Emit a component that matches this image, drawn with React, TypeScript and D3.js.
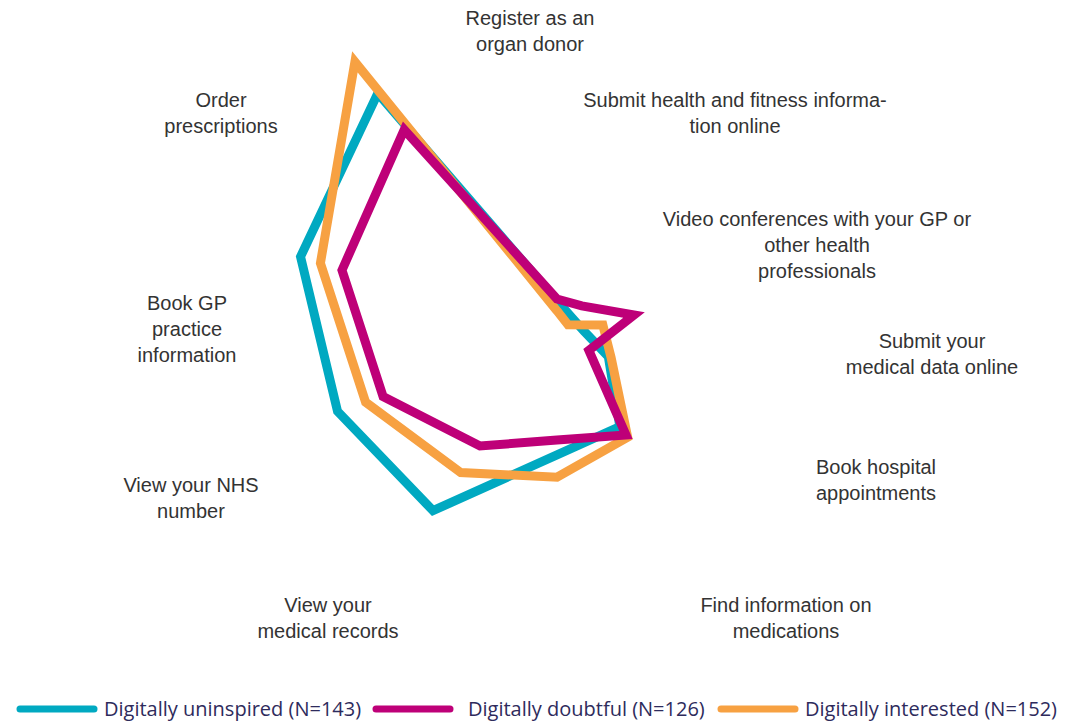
import React from "react";
import * as d3 from "d3";

// ---- data ----
const categories = [
  "Register as an organ donor",
  "Submit health and fitness information online",
  "Video conferences with your GP or other health professionals",
  "Submit your medical data online",
  "Book hospital appointments",
  "Find information on medications",
  "View your medical records",
  "View your NHS number",
  "Book GP practice information",
  "Order prescriptions",
];

const labelLines = [
  ["Register as an", "organ donor"],
  ["Submit health and fitness informa-", "tion online"],
  ["Video conferences with your GP or", "other health", "professionals"],
  ["Submit your", "medical data online"],
  ["Book hospital", "appointments"],
  ["Find information on", "medications"],
  ["View your", "medical records"],
  ["View your NHS", "number"],
  ["Book GP", "practice", "information"],
  ["Order", "prescriptions"],
];

const seriesNames = [
  "Digitally uninspired (N=143)",
  "Digitally doubtful (N=126)",
  "Digitally interested (N=152)",
];

const uninspired = [10.9, 7.4, 7.9, 15.0, 29.7, 31.9, 58.6, 64.1, 74.9, 84.7];
const doubtful = [11.4, 11.7, 22.5, 9.3, 32.6, 27.8, 36.4, 50.8, 62.8, 72.2];
const interested = [8.1, 5.2, 13.4, 15.8, 33.4, 38.1, 45.5, 55.9, 69.1, 95.5];

// ---- layout / style ----
const W = 1079;
const H = 721;
const CX = 557;
const CY = 340;
const MAX_R = 360;
const colors = ["#00A9C1", "#BE0078", "#F7A142"];
const drawOrder = [0, 2, 1];
// label anchor: centre x, middle of first line y (labels are hand-placed in the original)
const labelAnchors: [number, number][] = [
  [530, 18],
  [735, 100],
  [817, 219],
  [932, 341],
  [876, 467],
  [786, 605],
  [328, 605],
  [191, 485],
  [187, 303],
  [221, 100],
];
const legendLineX = [17, 373, 718];
const legendTextX = [104, 468, 805];
const LEGEND_Y = 709;

export default function App() {
  const seriesValues = [uninspired, doubtful, interested];
  const n = categories.length;
  const angle = d3.scaleLinear().domain([0, n]).range([0, 2 * Math.PI]);
  const radius = d3.scaleLinear().domain([0, 100]).range([0, MAX_R]);
  const line = d3
    .lineRadial<number>()
    .angle((_, i) => angle(i))
    .radius((d) => radius(d))
    .curve(d3.curveLinearClosed);

  return (
    <svg
      width={W}
      height={H}
      style={{ position: "absolute", left: 0, top: 0, background: "#fff" }}
    >
      <rect width={W} height={H} fill="#fff" />
      <g transform={`translate(${CX},${CY})`}>
        {drawOrder.map((si) => (
          <path
            key={si}
            d={line(seriesValues[si]) || ""}
            fill="none"
            stroke={colors[si]}
            strokeWidth={9}
            strokeLinejoin="miter"
            strokeMiterlimit={10}
          />
        ))}
      </g>
      <g
        fontFamily="'Liberation Sans', Arial, sans-serif"
        fontSize={20}
        fill="#333333"
        textAnchor="middle"
      >
        {labelLines.map((lines, i) => (
          <text key={categories[i]} x={labelAnchors[i][0]} y={labelAnchors[i][1]}>
            {lines.map((t, j) => (
              <tspan
                key={j}
                x={labelAnchors[i][0]}
                dy={j === 0 ? "0.36em" : 26}
              >
                {t}
              </tspan>
            ))}
          </text>
        ))}
      </g>
      <g fontFamily="'Open Sans', sans-serif" fontSize={20} fill="#2E2B5C">
        {seriesNames.map((name, i) => (
          <g key={name}>
            <line
              x1={legendLineX[i] + 3}
              x2={legendLineX[i] + 77}
              y1={LEGEND_Y}
              y2={LEGEND_Y}
              stroke={colors[i]}
              strokeWidth={7}
              strokeLinecap="round"
            />
            <text x={legendTextX[i]} y={LEGEND_Y} dy="0.35em">
              {name}
            </text>
          </g>
        ))}
      </g>
    </svg>
  );
}
